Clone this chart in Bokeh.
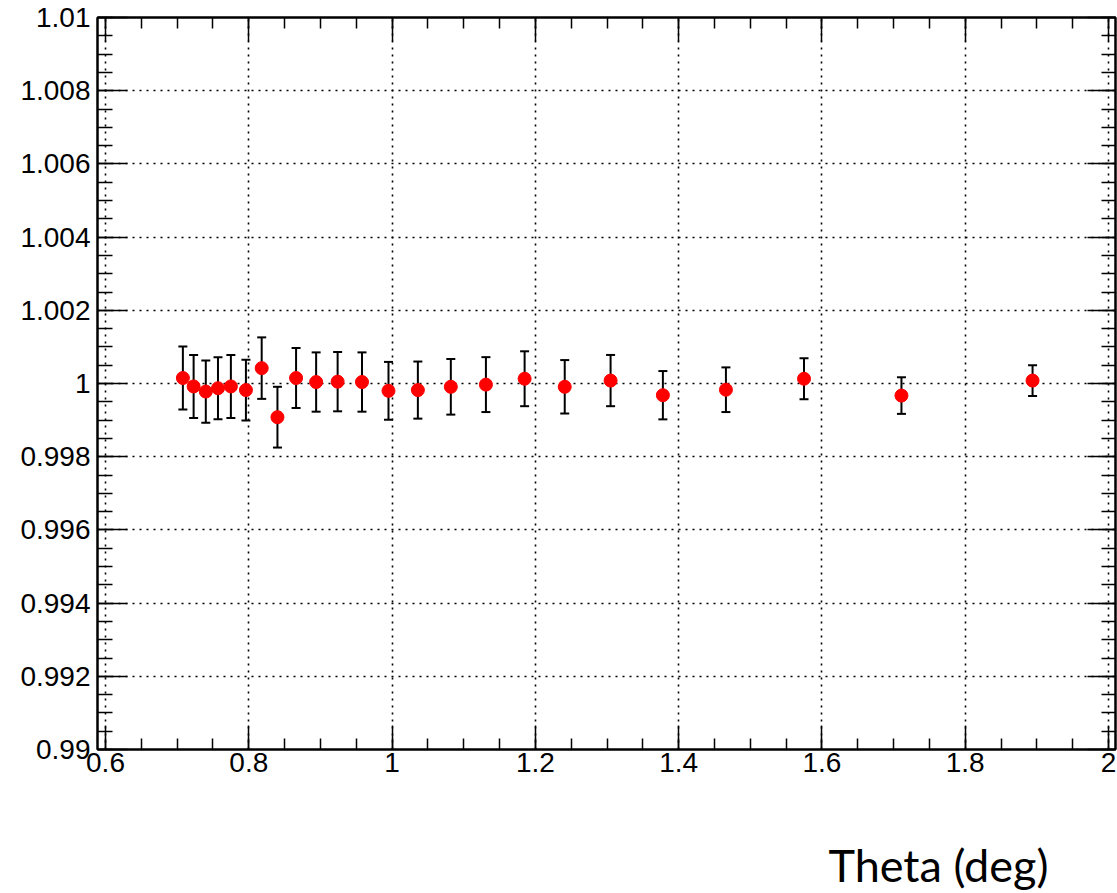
from bokeh.plotting import figure
from bokeh.models import (Range1d, FixedTicker, CustomJSTickFormatter, LinearAxis,
                          Whisker, TeeHead, ColumnDataSource, Title)
from bokeh.embed import file_html
from bokeh.resources import INLINE

# ---- data ----
theta = [0.708, 0.723, 0.740, 0.757, 0.775, 0.796, 0.818, 0.840, 0.866, 0.894,
         0.924, 0.958, 0.995, 1.036, 1.082, 1.131, 1.185, 1.241, 1.305, 1.378,
         1.466, 1.575, 1.711, 1.894]
ratio = [1.00015, 0.99992, 0.99978, 0.99987, 0.99992, 0.99982, 1.00042, 0.99908,
         1.00015, 1.00004, 1.00005, 1.00004, 0.99980, 0.99982, 0.99991, 0.99997,
         1.00013, 0.99991, 1.00008, 0.99968, 0.99983, 1.00013, 0.99967, 1.00008]
ratio_err = [0.00086, 0.00086, 0.00085, 0.00085, 0.00086, 0.00083, 0.00084, 0.00083,
             0.00082, 0.00081, 0.00081, 0.00081, 0.00079, 0.00078, 0.00076, 0.00075,
             0.00075, 0.00073, 0.00070, 0.00066, 0.00061, 0.00056, 0.00050, 0.00042]

x_major = [0.6, 0.8, 1.0, 1.2, 1.4, 1.6, 1.8, 2.0]
y_major = [0.99, 0.992, 0.994, 0.996, 0.998, 1.0, 1.002, 1.004, 1.006, 1.008, 1.01]
x_minor = [round(0.6 + 0.05 * i, 4) for i in range(29)]
y_minor = [round(0.99 + 0.0005 * i, 5) for i in range(41)]
x_title = "Theta (deg)"

source = ColumnDataSource(dict(
    x=theta, y=ratio,
    lo=[r - e for r, e in zip(ratio, ratio_err)],
    hi=[r + e for r, e in zip(ratio, ratio_err)],
))

p = figure(width=1117, height=893,
           x_range=Range1d(0.58883, 2.00977), y_range=Range1d(0.99, 1.01),
           output_backend="svg", toolbar_location=None,
           min_border_left=97, min_border_right=2, min_border_top=17, min_border_bottom=144)
p.outline_line_color = "black"
p.outline_line_width = 2
p.background_fill_color = "white"
p.border_fill_color = "white"

fmt = CustomJSTickFormatter(code="return String(parseFloat(tick.toFixed(4)));")
blank = CustomJSTickFormatter(code="return '';")

xt = FixedTicker(ticks=x_major, minor_ticks=x_minor)
yt = FixedTicker(ticks=y_major, minor_ticks=y_minor)

def style_axis(ax, major_in, minor_in):
    ax.axis_line_color = "black"
    ax.axis_line_width = 2
    ax.major_tick_line_color = "black"
    ax.minor_tick_line_color = "black"
    ax.major_tick_line_width = 1.5
    ax.minor_tick_line_width = 1.5
    ax.major_tick_out = 0
    ax.minor_tick_out = 0
    ax.major_tick_in = major_in
    ax.minor_tick_in = minor_in

xa = p.xaxis[0]
xa.ticker = xt
xa.formatter = fmt
style_axis(xa, 24, 11)
xa.major_label_text_font = "Liberation Sans"
xa.major_label_text_font_size = "28px"
xa.major_label_text_color = "black"
xa.major_label_standoff = 3

ya = p.yaxis[0]
ya.ticker = yt
ya.formatter = fmt
style_axis(ya, 30, 15)
ya.major_label_text_font = "Liberation Sans"
ya.major_label_text_font_size = "28px"
ya.major_label_text_color = "black"
ya.major_label_standoff = 7

ra = LinearAxis(ticker=yt, formatter=blank, major_label_text_font_size="0px",
                major_label_standoff=0)
style_axis(ra, 28, 14)
p.add_layout(ra, "right")

ta = LinearAxis(ticker=xt, formatter=blank, major_label_text_font_size="0px",
                major_label_standoff=0)
style_axis(ta, 24, 11)
p.add_layout(ta, "above")

# invisible spacer between the tick labels and the axis title
spacer = LinearAxis(ticker=xt, formatter=blank, major_label_text_font_size="0px",
                    major_label_standoff=0, major_tick_out=61, major_tick_in=0,
                    minor_tick_out=0, minor_tick_in=0,
                    axis_line_color=None, major_tick_line_color=None,
                    minor_tick_line_color=None)
p.add_layout(spacer, "below")

for g in (p.xgrid[0], p.ygrid[0]):
    g.grid_line_color = "black"
    g.grid_line_dash = "2 5"
    g.grid_line_width = 1.6
p.xgrid[0].ticker = xt
p.ygrid[0].ticker = yt

w = Whisker(base="x", upper="hi", lower="lo", source=source,
            line_color="black", line_width=2,
            upper_head=TeeHead(size=9, line_width=2, line_color="black"),
            lower_head=TeeHead(size=9, line_width=2, line_color="black"))
p.add_layout(w)

p.scatter("x", "y", source=source, size=13, fill_color="#ff0000", line_color="#ff0000")

t = Title(text=x_title, align="right", text_font="Lato", text_font_size="45px",
          text_font_style="normal", text_color="black", offset=67, standoff=0)
p.add_layout(t, "below")

open("out.html", "w").write(file_html(p, INLINE))
